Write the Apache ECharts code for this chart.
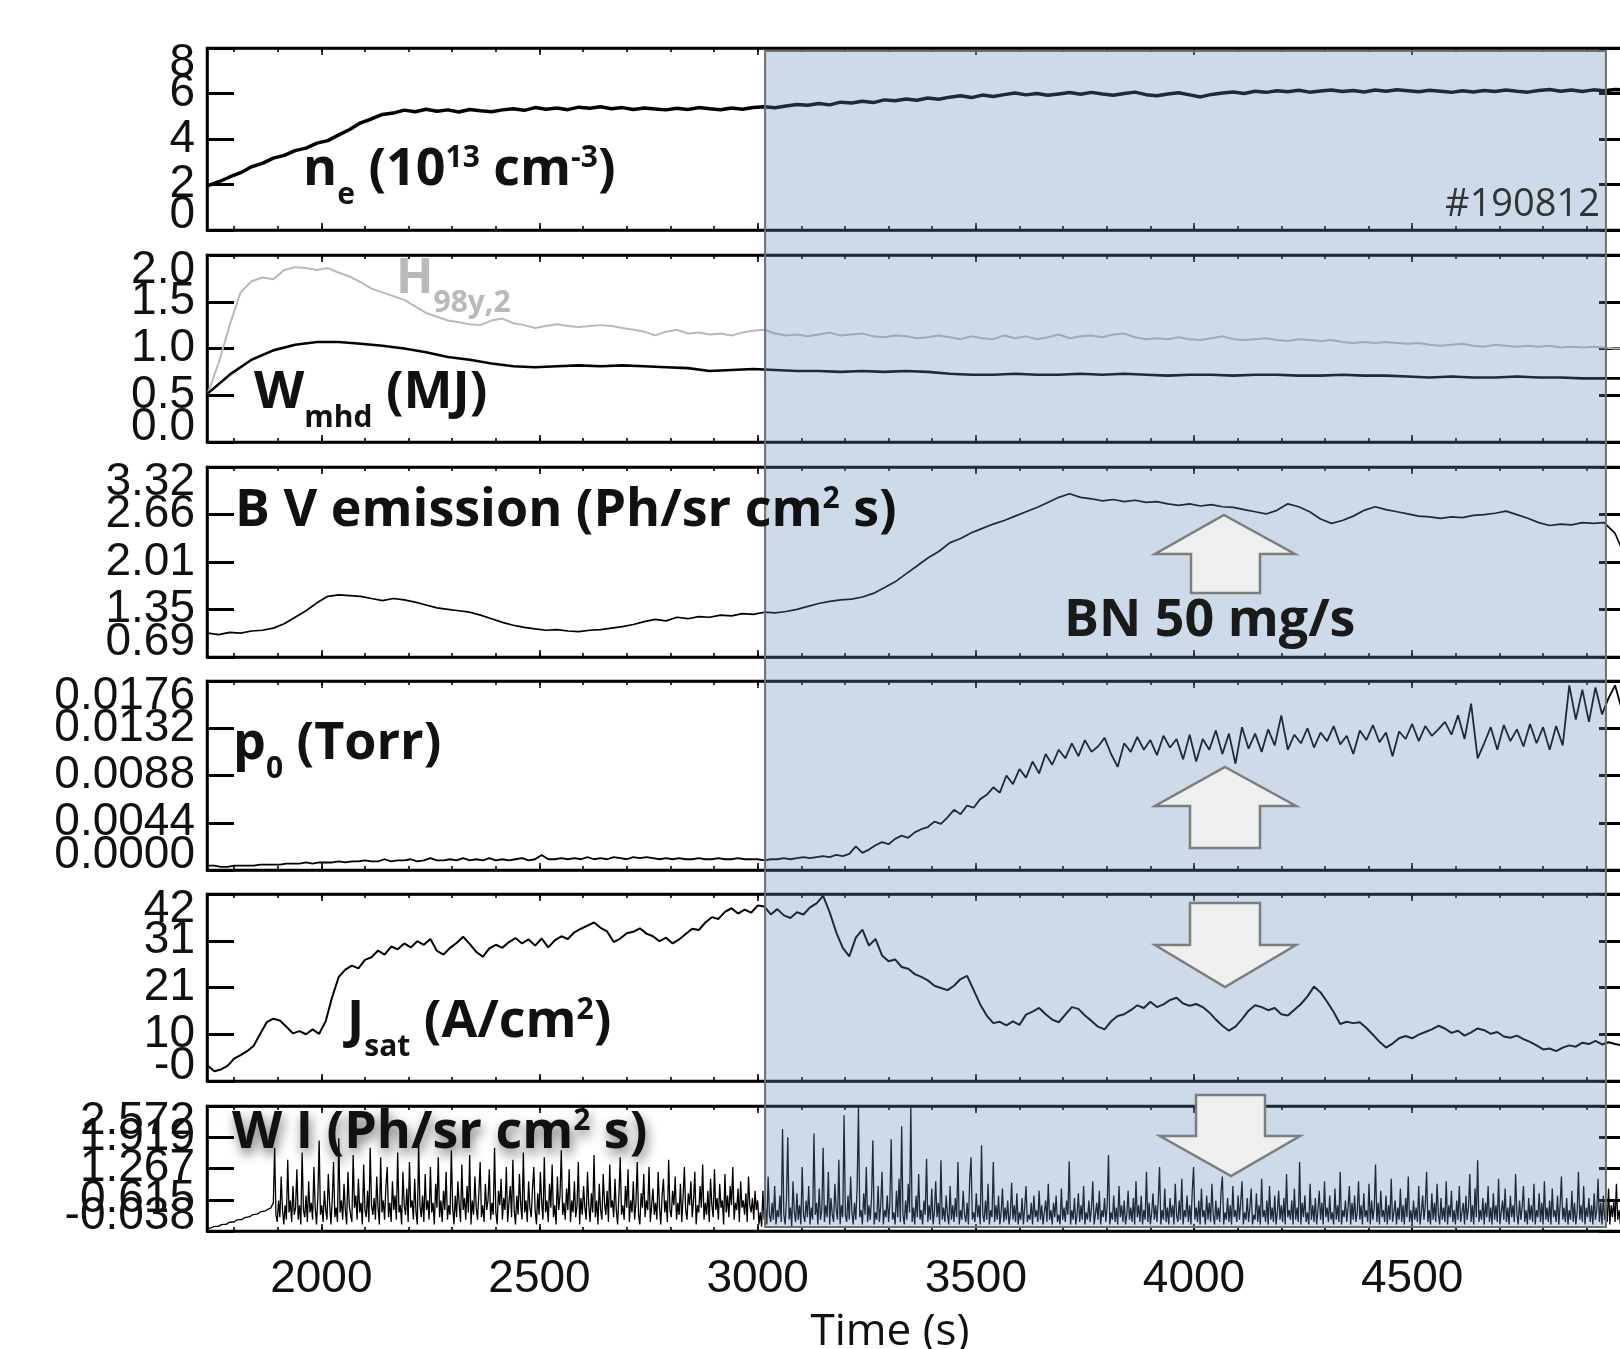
<!DOCTYPE html>
<html><head><meta charset="utf-8">
<script src="https://cdn.jsdelivr.net/npm/echarts@6/dist/echarts.min.js"></script>
<style>html,body{margin:0;padding:0;background:#fff;overflow:hidden}#c{width:1640px;height:1349px}</style>
</head><body><div id="c"></div><script>
// ---------------- DATA ----------------
const T_MIN = 1738, T_MAX = 4990;
const xMajorTicks = [2000, 2500, 3000, 3500, 4000, 4500];
const xTickLabels = ['2000', '2500', '3000', '3500', '4000', '4500'];
const shadeStart = 3017, shadeEnd = 4944;

const neTicks = [0, 2, 4, 6, 8];
const neTickLabels = ['0', '2', '4', '6', '8'];
const wTicks = [0, 0.5, 1.0, 1.5, 2.0];
const wTickLabels = ['0.0', '0.5', '1.0', '1.5', '2.0'];
const bvTicks = [0.69, 1.3475, 2.005, 2.6625, 3.32];
const bvTickLabels = ['0.69', '1.35', '2.01', '2.66', '3.32'];
const p0Ticks = [0, 0.0044, 0.0088, 0.0132, 0.0176];
const p0TickLabels = ['0.0000', '0.0044', '0.0088', '0.0132', '0.0176'];
const jsTicks = [-0.4, 10.1, 20.6, 31.1, 41.6];
const jsTickLabels = ['-0', '10', '21', '31', '42'];
const wiTicks = [-0.038, 0.6145, 1.267, 1.9195, 2.572];
const wiTickLabels = ['-0.038', '0.615', '1.267', '1.919', '2.572'];

// n_e (1e13 cm^-3), t0=1740, dt=25
const neT0 = 1740, neDt = 25;
const neValues = [1.95,2.12,2.33,2.52,2.78,2.93,3.16,3.28,3.49,3.6,3.82,3.93,4.18,4.42,4.71,4.88,5.08,5.14,5.27,5.2,
5.31,5.22,5.28,5.19,5.3,5.24,5.2,5.28,5.33,5.26,5.38,5.31,5.36,5.29,5.4,5.35,5.42,5.33,5.38,5.3,
5.36,5.32,5.28,5.35,5.3,5.38,5.33,5.29,5.36,5.31,5.38,5.42,5.37,5.45,5.52,5.48,5.56,5.5,5.62,5.58,
5.66,5.6,5.72,5.68,5.76,5.7,5.8,5.75,5.84,5.9,5.82,5.93,5.87,5.95,6.02,5.94,6.0,5.92,5.98,6.04,
5.97,6.05,5.98,5.92,6.0,6.06,5.95,5.9,5.98,6.03,5.94,5.85,5.96,6.02,6.07,6.0,6.1,6.05,6.12,6.08,
6.14,6.06,6.11,6.15,6.09,6.13,6.07,6.15,6.1,6.16,6.12,6.08,6.14,6.1,6.05,6.12,6.07,6.13,6.09,6.15,
6.1,6.06,6.13,6.18,6.1,6.15,6.09,6.16,6.12,6.18,6.15];

// W_mhd (MJ), t0=1740, dt=50
const wmT0 = 1740, wmDt = 50;
const wmhdValues = [0.52,0.72,0.88,0.98,1.04,1.07,1.07,1.05,1.03,1.0,0.96,0.91,0.88,0.84,0.81,0.8,0.81,0.82,0.81,0.82,
0.81,0.8,0.79,0.76,0.77,0.78,0.77,0.76,0.76,0.75,0.76,0.75,0.76,0.75,0.73,0.72,0.72,0.73,0.72,0.72,
0.73,0.72,0.73,0.72,0.71,0.72,0.72,0.71,0.72,0.72,0.71,0.71,0.72,0.71,0.71,0.7,0.69,0.7,0.69,0.69,
0.7,0.69,0.69,0.68,0.68,0.68];

// H98y,2, t0=1740, dt=25
const hT0 = 1740, hDt = 25;
const h98Values = [0.52,0.85,1.25,1.6,1.72,1.76,1.74,1.84,1.87,1.86,1.84,1.86,1.81,1.77,1.71,1.64,1.6,1.56,1.52,1.45,
1.38,1.34,1.3,1.28,1.26,1.25,1.3,1.32,1.27,1.25,1.22,1.24,1.26,1.24,1.23,1.24,1.25,1.24,1.22,1.2,
1.18,1.14,1.18,1.2,1.16,1.17,1.15,1.16,1.14,1.17,1.19,1.2,1.16,1.14,1.15,1.13,1.15,1.17,1.14,1.15,
1.16,1.13,1.12,1.14,1.13,1.11,1.12,1.14,1.12,1.1,1.13,1.11,1.1,1.14,1.11,1.13,1.1,1.12,1.15,1.11,
1.13,1.14,1.12,1.15,1.16,1.12,1.1,1.11,1.1,1.12,1.1,1.09,1.11,1.13,1.1,1.09,1.1,1.11,1.09,1.08,
1.1,1.09,1.08,1.09,1.07,1.06,1.07,1.06,1.07,1.06,1.05,1.06,1.04,1.03,1.04,1.05,1.03,1.02,1.04,1.03,
1.02,1.03,1.02,1.03,1.01,1.02,1.01,1.02,1.01,1.0,1.0];

// B V emission, t0=1740, dt=25
const bvT0 = 1740, bvDt = 25;
const bvValues = [1.02,1.0,1.03,1.02,1.05,1.06,1.09,1.15,1.24,1.33,1.44,1.53,1.55,1.54,1.53,1.5,1.47,1.5,1.48,1.45,
1.41,1.37,1.35,1.33,1.31,1.27,1.22,1.17,1.13,1.1,1.08,1.06,1.07,1.05,1.04,1.06,1.07,1.09,1.11,1.14,
1.18,1.21,1.19,1.24,1.22,1.25,1.24,1.27,1.26,1.29,1.28,1.31,1.3,1.32,1.35,1.39,1.43,1.46,1.48,1.49,
1.52,1.57,1.65,1.73,1.84,1.95,2.06,2.15,2.27,2.33,2.41,2.47,2.53,2.58,2.64,2.7,2.76,2.83,2.9,2.95,
2.9,2.88,2.85,2.87,2.84,2.86,2.83,2.84,2.81,2.79,2.81,2.78,2.8,2.77,2.76,2.73,2.7,2.67,2.72,2.81,
2.77,2.7,2.6,2.54,2.58,2.64,2.72,2.77,2.73,2.7,2.67,2.64,2.63,2.61,2.63,2.62,2.65,2.66,2.68,2.71,
2.66,2.61,2.55,2.51,2.53,2.52,2.55,2.54,2.55,2.4,2.05];

// p0 (Torr), t0=1740, dt=15
const p0T0 = 1740, p0Dt = 15;
const p0Values = [0.0004,0.0004,0.0003,0.0003,0.0004,0.0004,0.0004,0.0004,0.0005,0.0005,
0.0005,0.0005,0.0006,0.0006,0.0006,0.0007,0.0006,0.0007,0.0007,0.0007,
0.0008,0.0007,0.0008,0.0008,0.0009,0.0008,0.0008,0.0010,0.0008,0.0009,
0.0009,0.0010,0.0008,0.0009,0.0011,0.0009,0.0009,0.0010,0.0009,0.0011,
0.0009,0.0010,0.0009,0.0011,0.0009,0.0010,0.0009,0.0010,0.0011,0.0009,
0.0010,0.0014,0.0010,0.0010,0.0011,0.0010,0.0011,0.0010,0.0012,0.0010,
0.0011,0.0010,0.0012,0.0011,0.0010,0.0012,0.0011,0.0012,0.0011,0.0010,
0.0011,0.0010,0.0011,0.0010,0.0010,0.0011,0.0010,0.0010,0.0011,0.0010,
0.0010,0.0011,0.0010,0.0010,0.0010,
0.0009,0.0010,0.0010,0.0011,0.0010,0.0011,0.0012,0.0011,0.0012,0.0013,0.0012,0.0014,0.0013,0.0015,0.0022,
0.0016,0.0019,0.0023,0.0026,0.0024,0.0029,0.0032,0.0030,0.0035,0.0038,
0.0040,0.0045,0.0043,0.0049,0.0056,0.0052,0.0060,0.0058,0.0066,0.0070,
0.0077,0.0072,0.0088,0.0080,0.0094,0.0086,0.0101,0.0090,0.0108,0.0098,
0.0112,0.0104,0.0118,0.0106,0.0121,0.0110,0.0115,0.0123,0.0108,0.0096,
0.0118,0.0110,0.0124,0.0112,0.0121,0.0107,0.0125,0.0114,0.0122,0.0103,
0.0126,0.0101,0.0122,0.0112,0.0130,0.0108,0.0127,0.0099,0.0133,0.0113,
0.0127,0.0110,0.0131,0.0116,0.0144,0.0112,0.0126,0.0118,0.0132,0.0114,
0.0128,0.0120,0.0134,0.0117,0.0125,0.0108,0.0130,0.0121,0.0135,0.0119,
0.0128,0.0106,0.0129,0.0122,0.0136,0.0120,0.0134,0.0125,0.0131,0.0138,
0.0126,0.0144,0.0122,0.0155,0.0104,0.0118,0.0133,0.0112,0.0135,0.0120,
0.0131,0.0115,0.0136,0.0118,0.0133,0.0112,0.0134,0.0116,0.0172,0.0140,
0.0168,0.0138,0.0170,0.0145,0.0160,0.0172,0.0150];

// J_sat (A/cm^2), t0=1740, dt=15
const jsT0 = 1740, jsDt = 15;
const jsatValues = [3.0,1.8,2.2,3.0,4.6,5.4,6.3,7.5,10.2,12.8,13.6,13.2,11.8,10.3,10.8,10.1,11.2,10.2,13.0,18.5,
23.0,24.6,25.5,24.9,26.8,27.4,28.9,28.0,29.8,29.2,30.5,29.6,31.0,30.2,31.5,28.8,28.0,29.5,30.6,32.0,
30.4,28.6,27.5,29.4,30.2,29.5,30.8,31.7,30.5,31.4,30.0,31.6,29.6,31.2,32.1,31.5,33.0,33.8,34.5,35.2,
34.0,33.2,30.8,31.6,32.8,33.1,33.9,32.7,32.1,31.0,31.8,30.5,31.4,32.6,33.8,33.5,35.2,36.4,36.0,37.6,
38.4,37.2,38.1,37.4,39.0,38.8,37.0,38.2,36.8,36.2,37.5,37.0,38.6,39.5,41.2,37.5,33.0,29.5,27.6,31.8,
33.6,30.0,31.5,27.8,26.5,26.9,25.2,24.8,23.6,23.0,22.2,21.0,20.5,20.0,21.0,22.5,23.2,20.0,16.8,14.3,
12.6,12.9,12.1,13.0,12.2,14.5,15.2,16.0,14.6,13.4,12.8,14.5,16.2,15.8,14.3,13.1,11.8,11.2,13.0,14.2,
14.6,15.5,16.6,16.0,17.4,16.2,16.8,17.8,18.3,17.0,16.5,16.9,16.2,15.0,13.4,12.0,10.9,11.8,13.5,15.4,
16.6,16.2,15.5,16.0,14.6,14.3,15.6,16.9,18.6,20.8,19.5,17.4,15.1,12.4,12.9,12.6,12.8,11.5,10.0,8.4,
7.1,8.0,9.2,9.7,9.2,10.0,10.6,11.2,12.0,11.4,10.4,10.9,9.8,10.5,11.4,11.0,10.2,10.6,9.6,9.3,
9.8,9.0,8.4,7.6,6.7,6.9,6.3,7.1,7.6,7.3,8.2,7.9,8.6,7.8,8.3,7.9,7.6];

// W I emission, t0=1740, dt=3
const wiT0 = 1740, wiDt = 3;
const wiValues = [
0.02,0.03,0.02,0.04,0.05,0.04,0.06,0.07,0.06,0.08,0.09,0.08,0.1,0.11,0.1,0.12,0.14,0.13,0.15,0.16,
0.15,0.17,0.19,0.18,0.2,0.21,0.2,0.22,0.24,0.23,0.25,0.27,0.26,0.28,0.3,0.29,0.31,0.33,0.32,0.34,
0.36,0.35,0.37,0.39,0.38,0.4,0.42,0.41,0.44,0.48,
0.55,1.7,0.3,0.15,0.6,0.25,1.1,0.4,0.1,0.5,
0.2,1.45,0.35,0.6,0.15,0.9,0.3,0.45,1.25,0.2,
0.5,0.1,1.6,0.4,0.25,0.7,0.15,1.0,0.35,0.55,
0.2,1.3,0.45,0.1,0.65,1.85,0.3,0.5,0.15,0.8,
0.4,0.2,1.15,0.55,0.1,0.6,1.4,0.25,0.45,0.15,
1.9,0.35,0.6,0.2,0.95,0.4,0.1,1.2,0.5,0.3,
0.15,1.55,0.45,0.7,0.2,1.05,0.35,0.55,0.1,1.35,
0.4,0.25,0.8,0.15,1.7,0.5,0.3,0.65,0.2,1.1,
0.45,0.1,1.5,0.35,0.6,0.2,0.9,1.3,0.25,0.55,
0.15,1.0,0.4,0.7,0.2,1.6,0.35,0.5,0.1,1.2,
0.5,0.3,0.85,0.15,1.4,0.45,0.6,0.2,1.05,0.35,
0.1,1.75,0.5,0.25,0.7,0.15,1.15,0.4,0.6,0.2,
1.3,0.35,0.55,0.1,0.95,0.45,1.5,0.25,0.6,0.15,
0.8,0.4,1.2,0.2,0.5,0.3,1.65,0.45,0.1,0.7,
0.25,1.0,0.5,0.15,1.35,0.4,0.65,0.2,0.9,0.35,
1.55,0.1,0.6,0.3,1.1,0.45,0.2,0.75,1.4,0.25,
0.5,0.15,0.95,0.4,0.6,1.25,0.2,0.55,0.3,1.7,
0.35,0.1,0.8,0.5,1.05,0.2,0.65,0.4,1.3,0.15,
0.55,0.9,0.25,1.45,0.4,0.1,0.7,0.3,1.15,0.5,
0.2,1.6,0.35,0.6,0.15,1.0,0.45,0.25,0.85,1.3,
0.4,0.1,0.75,0.3,1.2,0.55,0.2,1.5,0.35,0.6,
0.15,0.95,0.45,1.35,0.25,0.5,0.1,1.1,0.4,0.7,
1.65,0.3,0.55,0.2,0.85,0.4,1.25,0.15,0.6,0.35,
1.0,0.25,0.5,1.4,0.1,0.65,0.3,0.9,0.45,0.2,
1.2,0.5,0.15,0.75,0.35,1.55,0.25,0.6,0.1,0.95,
0.4,0.2,1.15,0.55,0.3,0.8,0.15,1.35,0.45,0.6,
0.25,1.05,0.4,0.1,0.7,1.5,0.3,0.5,0.2,0.9,
0.45,1.25,0.15,0.6,0.35,1.0,0.2,0.55,1.4,0.3,
0.1,0.75,0.45,1.15,0.25,0.6,0.4,1.3,0.15,0.5,
0.85,0.3,0.55,0.2,1.2,0.45,0.1,0.7,1.05,0.35,
0.6,0.15,1.45,0.4,0.25,0.8,0.5,1.1,0.2,0.55,
0.3,0.95,0.15,0.65,1.3,0.4,0.2,0.75,0.5,1.0,
0.25,0.6,1.2,0.1,0.5,0.35,0.9,0.45,1.35,0.2,
0.55,0.3,0.8,0.15,1.05,0.5,0.25,1.25,0.4,0.65,
0.2,0.95,0.45,0.6,0.1,1.15,0.35,0.7,0.25,0.9,
0.5,1.3,0.2,0.55,0.4,0.85,0.15,1.0,0.45,0.6,
0.3,0.75,0.15,1.1,0.5,0.35,0.65,0.2,0.8,0.4,
0.6,0.1,0.35,0.05,0.8,0.2,0.45,0.1,1.1,0.3,
0.15,0.55,0.2,0.9,0.1,0.4,0.25,0.7,0.15,2.09,
0.3,0.1,0.6,1.92,0.2,0.45,0.05,1.0,0.35,0.15,
0.75,0.2,0.5,0.1,1.3,0.3,0.15,0.6,0.25,0.9,
0.1,0.45,0.2,2.0,0.3,0.55,0.1,0.85,0.2,0.4,
1.7,0.15,0.5,0.25,1.2,0.1,0.65,0.3,0.15,0.95,
0.4,0.2,1.45,0.1,0.5,0.25,2.38,0.3,0.15,0.7,
0.2,1.1,0.35,0.1,0.55,0.2,0.9,2.55,0.25,0.4,
0.1,0.75,0.3,1.3,0.15,0.5,0.2,0.65,1.85,0.1,
0.35,0.2,0.9,0.15,0.5,1.2,0.1,0.4,0.25,0.7,
0.15,0.55,1.88,0.2,0.35,0.1,0.8,0.25,1.05,0.15,
2.15,0.3,0.1,0.6,0.2,0.95,0.35,2.55,0.15,0.45,
0.1,0.7,0.25,1.15,0.2,0.4,0.1,0.6,0.3,1.47,
0.15,0.5,0.2,0.85,0.1,0.35,1.0,0.25,0.55,0.1,
1.44,0.2,0.45,0.15,0.7,0.3,0.1,0.9,0.2,0.5,
0.15,0.65,0.25,1.4,0.1,0.4,0.2,0.8,0.3,0.15,
0.55,0.1,1.05,1.5,0.2,0.35,0.15,0.75,0.25,0.5,
0.1,1.75,0.3,0.15,0.6,0.2,0.95,0.1,0.4,0.25,
1.4,0.15,0.5,0.2,0.7,0.1,0.35,0.85,0.15,0.45,
0.2,0.6,0.1,0.3,0.97,0.2,0.5,0.15,0.75,0.1,
0.35,0.2,0.65,0.1,0.45,0.9,0.15,0.3,0.2,0.55,
0.1,0.7,0.25,0.4,0.15,0.8,0.2,0.5,0.1,0.35,
0.6,0.15,0.95,0.2,0.4,0.1,0.55,0.25,0.7,0.15,
0.3,0.1,0.85,0.2,0.45,0.15,0.6,0.3,1.42,0.1,
0.4,0.2,0.65,0.1,0.3,0.75,0.15,0.5,0.2,0.9,
0.1,0.35,0.2,0.6,0.15,0.45,1.0,0.1,0.3,0.55,
0.2,0.8,0.1,0.4,0.25,0.65,0.15,0.5,1.55,0.1,
0.35,0.2,0.7,0.15,0.45,0.1,0.9,0.25,0.5,0.15,
0.6,0.1,0.3,0.8,0.2,0.45,0.15,0.65,0.1,1.0,
0.25,0.5,0.15,0.7,0.1,0.4,0.2,1.2,0.15,0.55,
0.1,0.35,0.75,0.2,0.5,0.15,0.6,1.3,0.1,0.4,
0.2,0.85,0.15,0.45,0.1,0.65,0.25,0.5,0.1,0.95,
0.3,0.15,0.6,0.2,1.05,0.1,0.4,0.25,0.7,0.15,
0.5,0.1,0.8,1.3,0.2,0.45,0.15,0.6,0.1,0.85,
0.25,0.4,0.1,0.7,0.2,0.55,0.15,0.95,0.3,0.1,
0.6,0.2,0.45,0.15,0.8,1.1,0.1,0.35,0.2,0.65,
0.15,0.5,0.1,0.9,0.25,0.4,0.15,0.7,0.2,0.55,
1.0,0.1,0.35,0.2,0.65,0.15,0.45,0.85,0.1,0.3,
0.2,0.75,0.15,0.5,0.1,1.05,0.25,0.4,0.15,0.6,
0.1,0.9,0.2,0.45,0.15,0.7,0.1,0.35,0.8,0.2,
0.5,0.15,0.65,0.1,1.15,0.25,0.4,0.2,0.6,0.1,
0.85,0.2,0.45,0.15,1.4,0.1,0.55,0.25,0.7,0.15,
0.35,0.1,0.95,0.2,0.5,0.15,0.65,0.1,0.4,0.8,
0.2,0.55,0.1,1.0,0.25,0.45,0.15,0.7,0.2,0.35,
0.1,0.85,0.2,0.5,0.15,1.2,0.1,0.4,0.25,0.6,
0.15,0.45,0.9,0.1,0.55,0.2,0.7,0.15,0.35,1.0,
0.2,0.5,0.1,0.75,0.25,0.4,0.15,0.95,0.1,0.6,
0.2,0.45,1.35,0.15,0.55,0.1,0.8,0.25,0.4,0.15,
0.7,0.1,0.5,0.2,1.05,0.15,0.35,0.6,0.1,0.45,
0.2,0.85,0.15,0.5,0.1,0.65,0.25,1.1,0.15,0.4,
0.1,0.6,0.2,0.45,0.15,0.9,0.1,0.35,0.7,0.2,
0.5,1.2,0.15,0.4,0.1,0.75,0.2,0.55,0.15,0.95,
0.3,0.1,0.65,0.2,0.45,0.15,1.0,0.1,0.5,0.25,
0.8,0.15,0.4,0.1,0.6,0.2,0.9,0.15,0.35,0.55,
0.1,0.7,0.2,0.45,1.15,0.15,0.5,0.1,0.85,0.25,
1.44,0.15,0.4,0.2,0.65,0.1,0.55,0.25,0.9,0.15,
0.45,0.1,0.75,0.2,0.5,0.15,1.05,0.1,0.35,0.6,
0.2,0.85,0.15,0.45,0.1,0.7,0.25,0.5,0.15,1.15,
0.3,0.1,0.6,0.2,0.45,0.9,0.15,0.4,0.1,0.65,
0.2,0.5,0.15,0.95,0.1,0.4,0.25,0.75,0.15,0.55,
0.1,1.0,0.2,0.45,0.15,0.6,0.1,0.85,0.25,0.4,
0.15,0.7,0.1,0.5,1.1,0.2,0.45,0.15,0.65,0.1,
0.4,0.2,0.8,0.15,0.55,0.1,0.35,1.2,0.2,0.5,
0.15,0.9,0.1,0.45,0.25,0.65,0.15,0.5,0.1,0.75,
0.2,0.4,1.05,0.15,0.55,0.1,0.7,0.2,0.45,0.15,
0.85,0.1,0.5,0.25,0.6,0.15,0.95,0.2,0.4,0.1,
0.65,0.3,0.9,0.5];

// ---------------- BUILD ----------------
function pairs(t0, dt, vals) { return vals.map((v, i) => [t0 + i * dt, v]); }
function labeler(ticks, labels) {
  return function (v) {
    let bi = 0, bd = Infinity;
    ticks.forEach((t, i) => { const d = Math.abs(t - v); if (d < bd) { bd = d; bi = i; } });
    return labels[bi];
  };
}
const xMinorTicks = [];
for (let t = 1800; t <= 4900; t += 100) xMinorTicks.push(t);

const LBL_FONT = '"Liberation Sans", Arial, sans-serif';
const TTL_FONT = '"Open Sans", "DejaVu Sans", sans-serif';

const panels = [
  { top: 48, height: 182, ticks: neTicks, labels: neTickLabels },
  { top: 255, height: 187, ticks: wTicks, labels: wTickLabels },
  { top: 467, height: 190, ticks: bvTicks, labels: bvTickLabels },
  { top: 681, height: 189, ticks: p0Ticks, labels: p0TickLabels },
  { top: 894, height: 187, ticks: jsTicks, labels: jsTickLabels },
  { top: 1106, height: 125, ticks: wiTicks, labels: wiTickLabels }
];

const grid = [], xAxis = [], yAxis = [];
panels.forEach((p, g) => {
  grid.push({ left: 207, right: 14, top: p.top, height: p.height, show: true,
    borderColor: '#000', borderWidth: 2.5, backgroundColor: 'transparent', containLabel: false });
  const mk = (pos, ticks, len, main) => ({
    type: 'value', gridIndex: g, position: pos, min: T_MIN, max: T_MAX,
    axisLine: { show: main, onZero: false, lineStyle: { color: '#000', width: 2.5 } },
    axisTick: { show: true, inside: true, length: len, customValues: ticks, lineStyle: { color: '#000', width: 1.6 } },
    axisLabel: { show: main && pos === 'bottom' && g === 5, customValues: xMajorTicks,
      formatter: labeler(xMajorTicks, xTickLabels), fontFamily: LBL_FONT, fontSize: 46, color: '#111', margin: 25 },
    splitLine: { show: false }
  });
  xAxis.push(mk('bottom', xMajorTicks, 7, true));
  xAxis.push(mk('bottom', xMinorTicks, 4, false));
  xAxis.push(mk('top', xMajorTicks, 7, true));
  xAxis.push(mk('top', xMinorTicks, 4, false));
  const evenTicks = p.ticks.filter((t, i) => i % 2 === 0);
  const oddTicks = p.ticks.filter((t, i) => i % 2 === 1);
  const ymk = (pos, showLine, tickVals, labelVals, edgeAlign) => ({
    type: 'value', gridIndex: g, position: pos, min: p.ticks[0], max: p.ticks[p.ticks.length - 1],
    axisLine: { show: showLine, onZero: false, lineStyle: { color: '#000', width: 2.5 } },
    axisTick: { show: !!tickVals, inside: true, length: 27, customValues: tickVals || p.ticks, lineStyle: { color: '#000', width: 3 } },
    axisLabel: { show: !!labelVals, customValues: labelVals || p.ticks, formatter: labeler(p.ticks, p.labels),
      showMinLabel: true, showMaxLabel: true, hideOverlap: false,
      fontFamily: LBL_FONT, fontSize: 46, lineHeight: 30, color: '#111', margin: 12,
      verticalAlignMinLabel: edgeAlign ? 'bottom' : 'middle', verticalAlignMaxLabel: edgeAlign ? 'top' : 'middle' },
    splitLine: { show: false }
  });
  yAxis.push(ymk('left', true, p.ticks, evenTicks, true));    // 3g   : main (series)
  yAxis.push(ymk('left', false, null, oddTicks, false));     // 3g+1 : odd labels
  yAxis.push(ymk('right', true, p.ticks, null, false));      // 3g+2 : right ticks
});

function line(g, data, color, width) {
  return { type: 'line', xAxisIndex: 4 * g, yAxisIndex: 3 * g, data: data, showSymbol: false, symbol: 'none',
    lineStyle: { color: color, width: width }, silent: true, animation: false, clip: true, z: 3, sampling: null };
}
const series = [
  line(0, pairs(neT0, neDt, neValues), '#000', 3.5),
  line(1, pairs(hT0, hDt, h98Values), '#b9b9b9', 2),
  line(1, pairs(wmT0, wmDt, wmhdValues), '#000', 2.6),
  line(2, pairs(bvT0, bvDt, bvValues), '#000', 1.7),
  line(3, pairs(p0T0, p0Dt, p0Values), '#000', 1.8),
  line(4, pairs(jsT0, jsDt, jsatValues), '#000', 2),
  line(5, pairs(wiT0, wiDt, wiValues), '#000', 1.3)
];

const chart = echarts.init(document.getElementById('c'), null, { renderer: 'canvas' });
chart.setOption({ animation: false, backgroundColor: '#fff', grid, xAxis, yAxis, series });

// ---------------- ANNOTATIONS ----------------
function rich(big, small, color, extra) {
  const base = Object.assign({ fontFamily: TTL_FONT, fontWeight: 'bold', fill: color }, extra || {});
  const L = big + 28;
  return {
    a: Object.assign({}, base, { fontSize: big, lineHeight: L, verticalAlign: 'middle' }),
    s: Object.assign({}, base, { fontSize: small, lineHeight: 20, verticalAlign: 'bottom' }),
    p: Object.assign({}, base, { fontSize: small, verticalAlign: 'top', padding: [13, 0, 0, 0] })
  };
}
function title(x, y, text, big, small, color, extra) {
  return { type: 'text', z: 130, silent: true,
    style: { x: x, y: y, text: text, rich: rich(big, small, color, extra), verticalAlign: 'top', align: 'left',
      font: 'bold ' + big + 'px ' + TTL_FONT, fill: color } };
}
function arrow(pts) {
  return { type: 'polygon', z: 120, silent: true, shape: { points: pts },
    style: { fill: '#efefef', stroke: '#7d7d7d', lineWidth: 2.5 } };
}
const xs = chart.convertToPixel({ xAxisIndex: 0 }, shadeStart);
const xe = chart.convertToPixel({ xAxisIndex: 0 }, shadeEnd);
const shadow = { textShadowColor: 'rgba(0,0,0,0.55)', textShadowBlur: 12, textShadowOffsetX: 2, textShadowOffsetY: 6 };

chart.setOption({ graphic: [
  { type: 'rect', z: 100, silent: true, shape: { x: xs, y: 51, width: xe - xs, height: 1176 },
    style: { fill: 'rgba(91,137,186,0.31)', stroke: '#6f6f6f', lineWidth: 2 } },
  title(303, 130, '{a|n}{s|e}{a| (10}{p|13}{a| cm}{p|-3}{a|)}', 52, 30, '#111'),
  title(396, 241, '{a|H}{s|98y,2}', 49, 30, '#b9b9b9'),
  title(254, 353, '{a|W}{s|mhd}{a| (MJ)}', 52, 30, '#111'),
  title(235, 471, '{a|B V emission (Ph/sr cm}{p|2}{a| s)}', 52, 30, '#111'),
  title(1064, 581, '{a|BN 50 mg/s}', 52, 30, '#1a1a1a'),
  title(233, 704, '{a|p}{s|0}{a| (Torr)}', 52, 30, '#111'),
  title(347, 982, '{a|J}{s|sat}{a| (A/cm}{p|2}{a|)}', 52, 30, '#111'),
  title(232, 1093, '{a|W I (Ph/sr cm}{p|2}{a| s)}', 52, 30, '#111', shadow),
  { type: 'text', z: 130, silent: true, style: { x: 1600, y: 205, text: '#190812', align: 'right', verticalAlign: 'middle',
      font: '38px ' + TTL_FONT, fill: '#333' } },
  { type: 'text', z: 130, silent: true, style: { x: 890, y: 1332, text: 'Time (s)', align: 'center', verticalAlign: 'middle',
      font: '44px ' + TTL_FONT, fill: '#111' } },
  arrow([[1224, 515], [1295, 554], [1260, 554], [1260, 593], [1191, 593], [1191, 554], [1155, 554]]),
  arrow([[1225, 767], [1296, 806], [1260, 806], [1260, 848], [1190, 848], [1190, 806], [1155, 806]]),
  arrow([[1190, 903], [1260, 903], [1260, 945], [1296, 945], [1225, 987], [1155, 945], [1190, 945]]),
  arrow([[1196, 1095], [1265, 1095], [1265, 1136], [1300, 1136], [1231, 1176], [1160, 1136], [1196, 1136]])
] });
</script></body></html>
